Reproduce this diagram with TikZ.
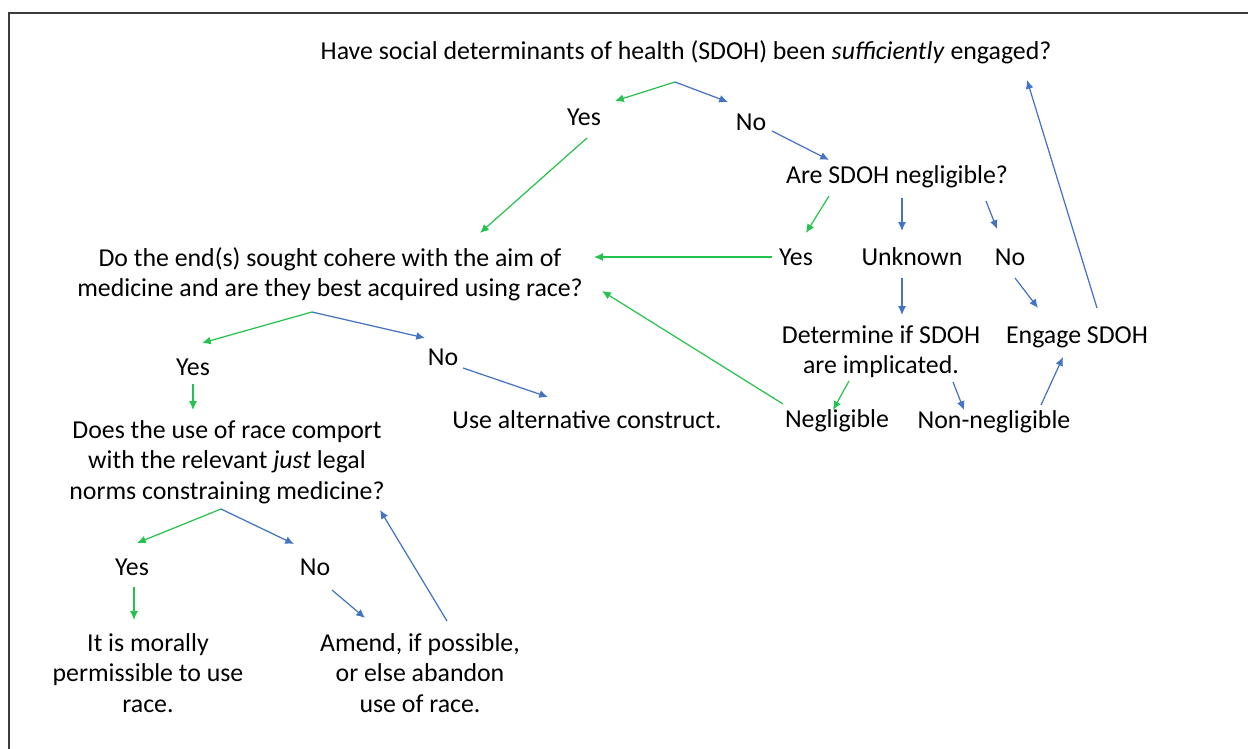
\documentclass[tikz,border=0pt]{standalone}
\usepackage{fontspec}
\setmainfont{Carlito}
\usetikzlibrary{calc,arrows.meta}
\definecolor{ygreen}{RGB}{38,194,78}
\definecolor{nblue}{RGB}{68,114,196}
\definecolor{framegray}{RGB}{60,60,60}
\begin{document}
\begin{tikzpicture}[x=0.02cm,y=-0.02cm,
  txt/.style={inner sep=0pt,outer sep=0pt,align=center,font=\fontsize{14.7}{17.3}\selectfont},
  garr/.style={draw=ygreen,line width=0.7pt,-{Latex[length=5pt,width=4.5pt]}},
  barr/.style={draw=nblue,line width=0.7pt,-{Latex[length=5pt,width=4.5pt]}}]
\useasboundingbox (0,0) rectangle (1248,749);
\draw[framegray,line width=1.1pt] (9,749) -- (9,13) -- (1248,13);
% nodes
\node[txt] (q1) at (686,52) {Have social determinants of health (SDOH) been \textit{sufficiently} engaged?};
\node[txt] (yes1) at (584,117) {Yes};
\node[txt] (no1) at (751,122) {No};
\node[txt] (q2) at (897,177) {Are SDOH negligible?};
\node[txt] (yes2) at (796,257) {Yes};
\node[txt] (unk) at (912,257) {Unknown};
\node[txt] (no2) at (1010,257) {No};
\node[txt] (det) at (881,352) {Determine if SDOH\\are implicated.};
\node[txt] (eng) at (1077,337) {Engage SDOH};
\node[txt] (neg) at (837,421) {Negligible};
\node[txt] (nn) at (994,422) {Non-negligible};
\node[txt] (q3) at (330,274) {Do the end(s) sought cohere with the aim of\\medicine and are they best acquired using race?};
\node[txt] (yes3) at (193,367) {Yes};
\node[txt] (no3) at (443,357) {No};
\node[txt] (alt) at (587,420) {Use alternative construct.};
\node[txt] (q4) at (227,462) {Does the use of race comport\\with the relevant \textit{just} legal\\norms constraining medicine?};
\node[txt] (yes4) at (132,567) {Yes};
\node[txt] (no4) at (315,567) {No};
\node[txt] (moral) at (148,673) {It is morally\\permissible to use\\race.};
\node[txt] (amend) at (420,673) {Amend, if possible,\\or else abandon\\use of race.};
% split points
\coordinate (q1s) at ($(q1)+(-11,30)$);
\coordinate (q3s) at ($(q3)+(-18,38)$);
\coordinate (q4s) at ($(q4)+(-6,47)$);
% connectors
\draw[garr] (q1s) -- ($(yes1)+(31,-16)$);
\draw[barr] (q1s) -- ($(no1)+(-23,-20)$);
\draw[garr] ($(yes1)+(3,21)$) -- ($(q3)+(150,-41)$);
\draw[barr] ($(no1)+(21,9)$) -- ($(q2)+(-68,-17)$);
\draw[garr] ($(q2)+(-68,19)$) -- ($(yes2)+(10,-24)$);
\draw[barr] ($(q2)+(5,21)$) -- ($(unk)+(-10,-26)$);
\draw[barr] ($(q2)+(89,24)$) -- ($(no2)+(-13,-28)$);
\draw[garr] ($(yes2)+(-24,0)$) -- ($(q3)+(264,-17)$);
\draw[barr] ($(unk)+(-10,21)$) -- ($(det)+(21,-37)$);
\draw[barr] ($(no2)+(5,21)$) -- ($(eng)+(-39,-29)$);
\draw[barr] ($(eng)+(20,-29)$) -- ($(q1)+(341,28)$);
\draw[garr] ($(det)+(-32,29)$) -- ($(neg)+(-4,-11)$);
\draw[barr] ($(det)+(72,30)$) -- ($(nn)+(-30,-12)$);
\draw[barr] ($(nn)+(47,-17)$) -- ($(eng)+(-14,20)$);
\draw[garr] ($(neg)+(-54,-17)$) -- ($(q3)+(272,17)$);
\draw[garr] (q3s) -- ($(yes3)+(9,-24)$);
\draw[barr] (q3s) -- ($(no3)+(-18,-19)$);
\draw[garr] ($(yes3)+(0,17)$) -- ($(q4)+(-34,-52)$);
\draw[barr] ($(no3)+(20,11)$) -- ($(alt)+(-39,-23)$);
\draw[garr] (q4s) -- ($(yes4)+(5,-24)$);
\draw[barr] (q4s) -- ($(no4)+(-21,-23)$);
\draw[garr] ($(yes4)+(2,20)$) -- ($(moral)+(-14,-53)$);
\draw[barr] ($(no4)+(17,23)$) -- ($(amend)+(-55,-55)$);
\draw[barr] ($(amend)+(27,-52)$) -- ($(q4)+(153,48)$);
\end{tikzpicture}
\end{document}
